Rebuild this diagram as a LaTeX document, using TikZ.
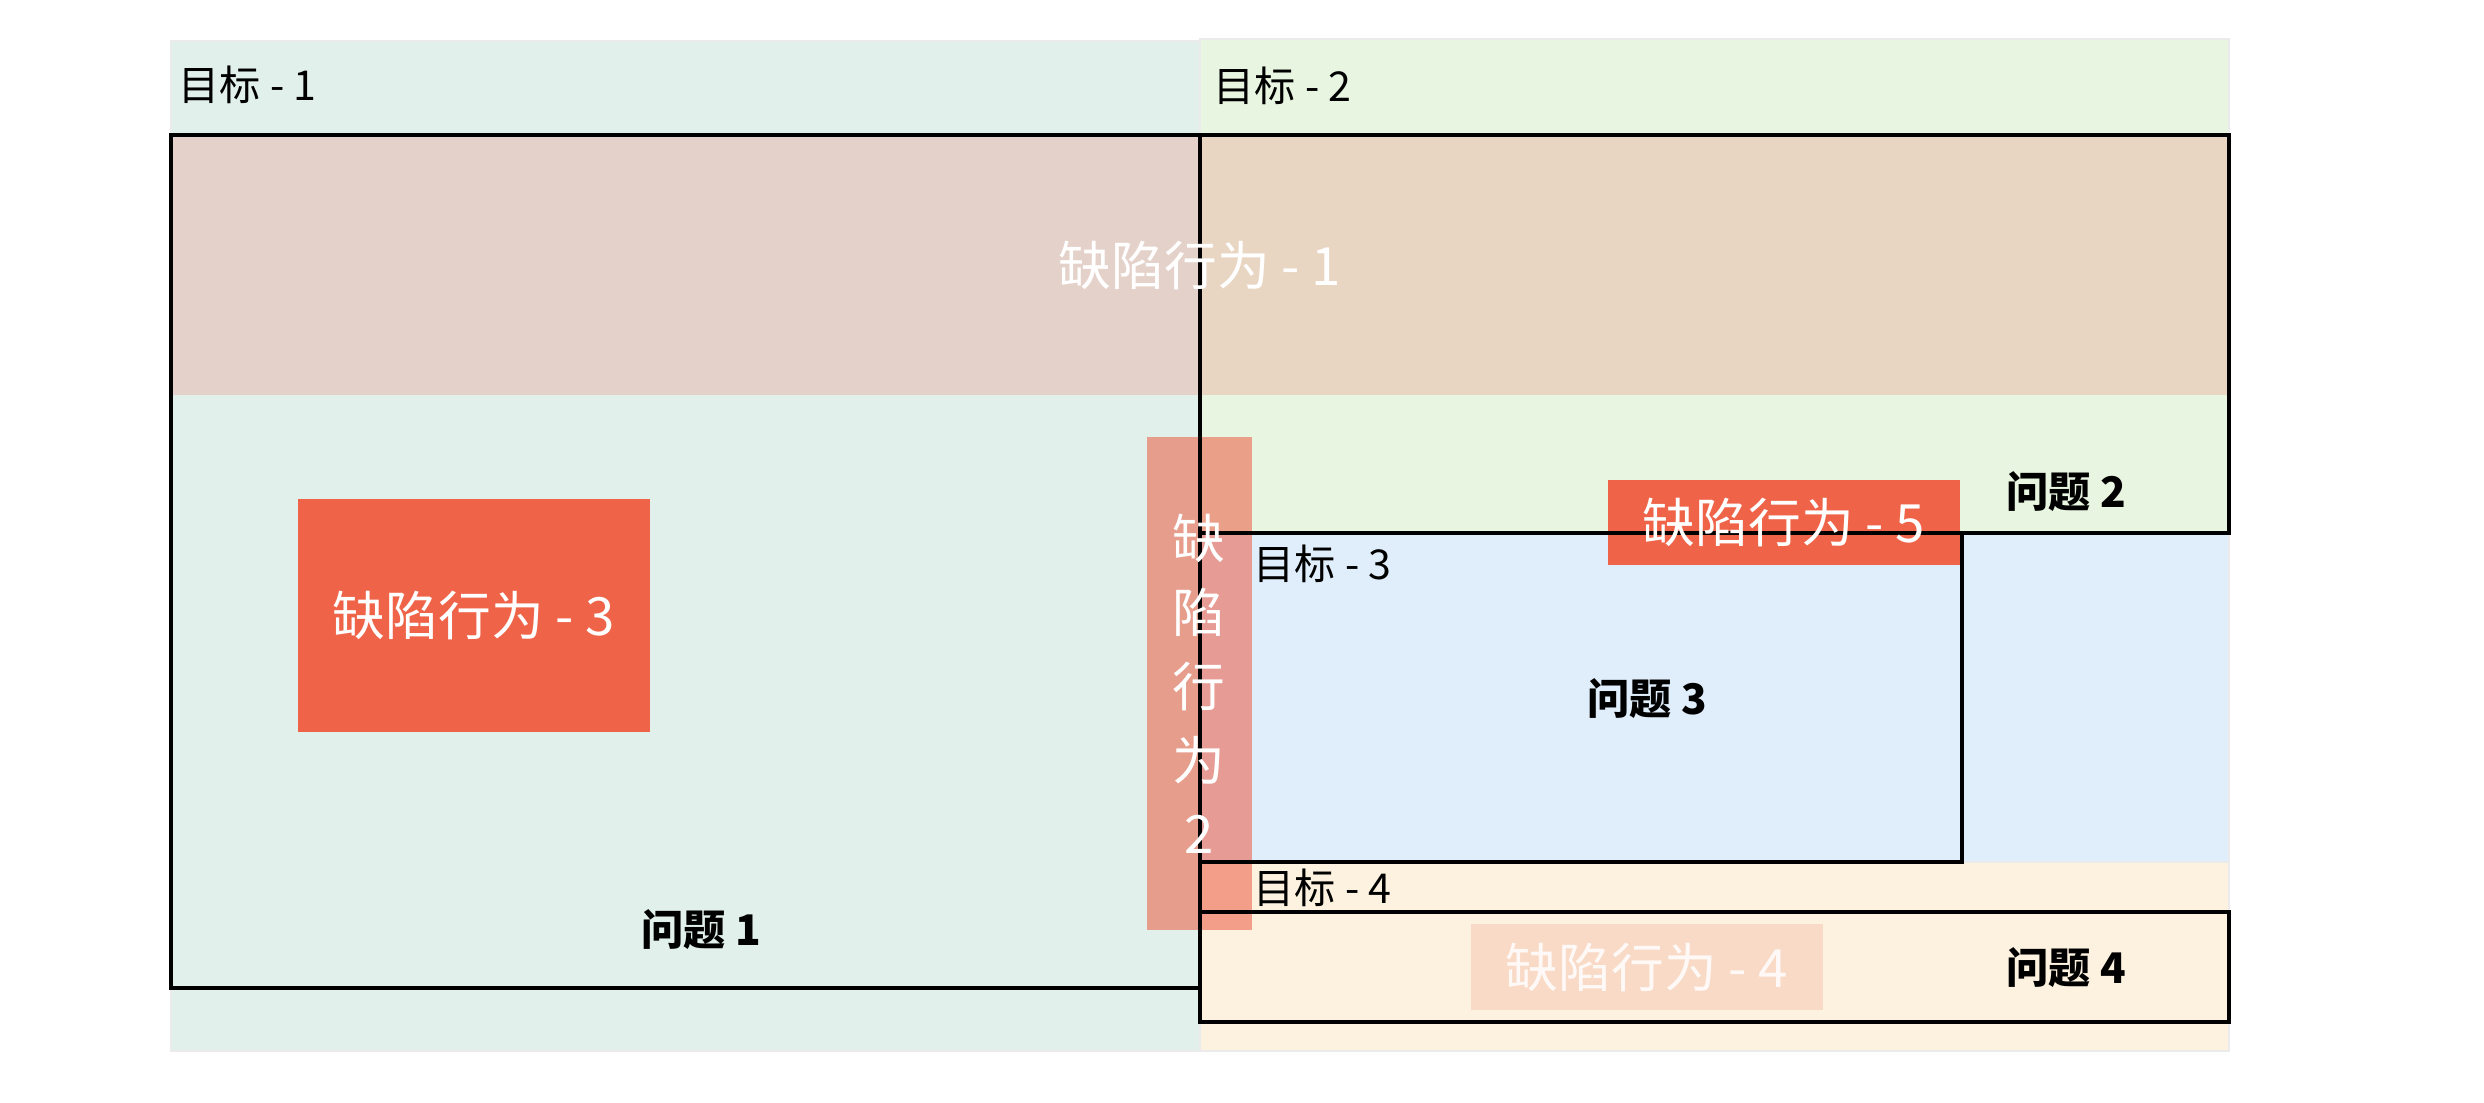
\documentclass[tikz,border=0pt]{standalone}
\usepackage{fontspec}
\setmainfont{Noto Sans CJK SC}
\usetikzlibrary{positioning}
\definecolor{goalA}{HTML}{E1F0EA}
\definecolor{goalB}{HTML}{E8F5E0}
\definecolor{goalC}{HTML}{E0EEFC}
\definecolor{goalD}{HTML}{FDF2DF}
\definecolor{bandred}{HTML}{EB8F83}
\definecolor{defred}{HTML}{EF6449}
\definecolor{stripred}{HTML}{EB5F46}
\definecolor{defpeach}{HTML}{F9DAC6}

\begin{document}
\begin{tikzpicture}[x=0.01cm,y=-0.01cm,
  bg/.style={draw=black!8,line width=0.3pt},
  frame/.style={draw=black,line width=0.95pt},
  lbl/.style={font=\fontsize{11.7}{14}\selectfont,anchor=west,inner sep=0pt},
  prob/.style={font=\bfseries\fontsize{12}{14}\selectfont,inner sep=0pt},
  dtxt/.style={font=\fontsize{15}{21}\selectfont,text=white,inner sep=0pt,align=center}]
  \useasboundingbox (0,0) rectangle (2484,1102);
  % goal areas
  \fill[goalA,bg] (171,41) rectangle (1200,1051);
  \fill[goalB,bg] (1200,39) rectangle (2229,533);
  \fill[goalC,bg] (1200,533) rectangle (2229,862);
  \fill[goalD,bg] (1200,862) rectangle (2229,1051);
  % defect areas
  \fill[bandred,fill opacity=0.3] (171,135) rectangle (2229,395);
  \fill[defred] (298,499) rectangle (650,732);
  \fill[defred] (1608,480) rectangle (1960,565);
  \fill[defpeach] (1471,924) rectangle (1823,1010);
  \fill[stripred,fill opacity=0.57] (1147,437) rectangle (1252,930);
  % problem frames
  \draw[frame] (171,135) rectangle (1200,988);
  \draw[frame] (1200,135) rectangle (2229,533);
  \draw[frame] (1200,533) rectangle (1962,862);
  \draw[frame] (1200,912) rectangle (2229,1022);
  % texts
  \node[lbl] (g1) at (178,85) {目标 - 1};
  \node[lbl] (g2) at (1213,86) {目标 - 2};
  \node[lbl] (g3) at (1253,564) {目标 - 3};
  \node[lbl] (g4) at (1253,888) {目标 - 4};
  \node[prob] (p1) at (701,930) {问题 1};
  \node[prob] (p2) at (2066,492) {问题 2};
  \node[prob] (p3) at (1647,699) {问题 3};
  \node[prob] (p4) at (2066,968) {问题 4};
  \node[dtxt] (d1) at (1200,265) {缺陷行为 - 1};
  \node[dtxt] (d2) at (1199,684) {缺\\陷\\行\\为\\2};
  \node[dtxt] (d3) at (474,615) {缺陷行为 - 3};
  \node[dtxt,text opacity=0.85] (d4) at (1647,967) {缺陷行为 - 4};
  \node[dtxt] (d5) at (1784,522) {缺陷行为 - 5};
\end{tikzpicture}
\end{document}
